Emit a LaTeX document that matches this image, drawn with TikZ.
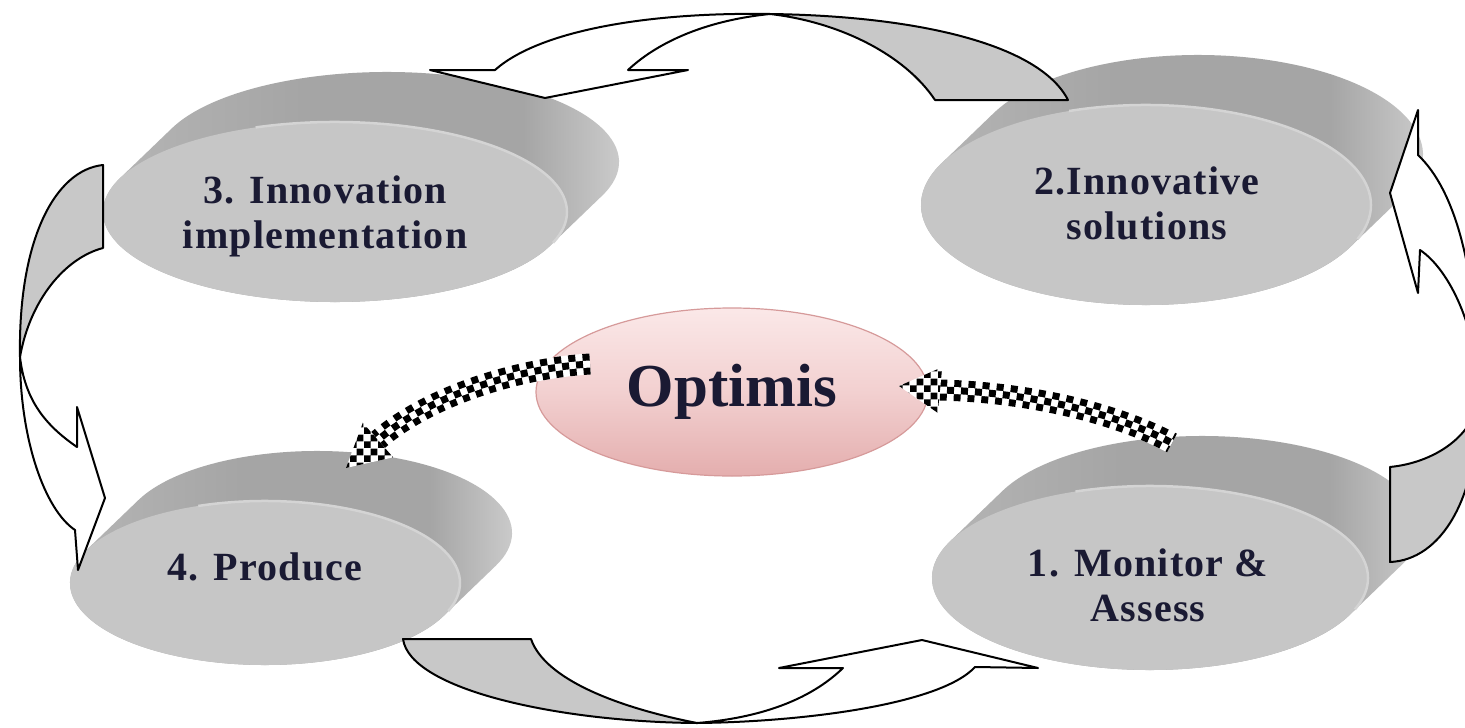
\documentclass[tikz,border=0pt]{standalone}
\usepackage{fontspec}
\setmainfont{Liberation Serif}
\newfontfamily\lblfont[LetterSpace=3]{Liberation Serif}
\usetikzlibrary{shapes.geometric,calc,patterns}
\pgfdeclarepatternformonly{chkseven}{\pgfpointorigin}{\pgfqpoint{14pt}{14pt}}{\pgfqpoint{14pt}{14pt}}{%
 \pgfpathrectangle{\pgfpointorigin}{\pgfqpoint{7pt}{7pt}}%
 \pgfpathrectangle{\pgfqpoint{7pt}{7pt}}{\pgfqpoint{7pt}{7pt}}%
 \pgfusepath{fill}}
\definecolor{sideL}{HTML}{B8B8B8}
\definecolor{sideM}{HTML}{A5A5A5}
\definecolor{sideR}{HTML}{D6D6D6}
\definecolor{face}{HTML}{C6C6C6}
\definecolor{rimc}{HTML}{D4D4D4}
\definecolor{ribgray}{HTML}{C8C8C8}
\definecolor{txt}{HTML}{1A1A33}
\definecolor{pinkT}{HTML}{FBE8E8}
\definecolor{pinkM}{HTML}{F2D0D0}
\definecolor{pinkB}{HTML}{E4AEAE}
\definecolor{pinkD}{HTML}{D69A9A}
\pgfdeclarehorizontalshading{discside}{100bp}{color(0bp)=(sideL); color(25bp)=(sideL); color(45bp)=(sideM); color(64bp)=(sideM); color(75bp)=(sideR); color(100bp)=(sideR)}
\newcommand\mydisc[5]{%
 \shade[shading=discside]
   ($(#1,#2)+(#5:#3 and #4)$) arc[start angle=#5, delta angle=180, x radius=#3, y radius=#4]
   -- ++(52,-50) arc[start angle=#5+180, delta angle=180, x radius=#3, y radius=#4] -- cycle;
 \fill[face] (#1,#2) ellipse[x radius=#3, y radius=#4];
 \draw[rimc, line width=2.5pt] ($(#1,#2)+(250:#3 and #4)$) arc[start angle=250, delta angle=130, x radius=#3, y radius=#4];
}
\newcommand\chkband[1]{%
 \draw[line width=21pt, white] #1;
 \draw[line width=21pt, black, dash pattern=on 7pt off 7pt] #1;
 \draw[line width=7pt, white] #1;
 \draw[line width=7pt, black, dash pattern=on 7pt off 7pt, dash phase=7pt] #1;
}
\begin{document}
\begin{tikzpicture}[x=1pt,y=-1pt,
  lbl/.style={font={\lblfont\bfseries\fontsize{40}{45}\selectfont}, text=txt, align=center, inner sep=0pt},
  ribbon/.style={draw=black, line width=2pt, line join=round},
  optbox/.style={ellipse, draw=pinkD, line width=1.2pt, top color=pinkT, bottom color=pinkB, middle color=pinkM,
     minimum width=392pt, minimum height=168pt, inner sep=0pt, text=txt,
     font={\bfseries\fontsize{61}{61}\selectfont}},
  chkhead/.style={pattern=chkseven, pattern color=black, preaction={fill=white}}]
\useasboundingbox (0,0) rectangle (1465,728);
\fill[white] (0,0) rectangle (1465,728);
\clip (0,0) rectangle (1465,728);

% discs
\mydisc{335}{212}{232}{90}{21.97}
\mydisc{1146}{205}{225}{100}{24.8}
\mydisc{265}{583}{195}{82}{23.6}
\mydisc{1150}{578}{218}{92}{23.7}

\node[lbl] (t3) at (325,216) {3. Innovation\\implementation};
\node[lbl] (t2) at (1147,203) {2.Innovative\\solutions};
\node[lbl] (t4) at (265,567) {4. Produce};
\node[lbl] (t1) at (1148,585) {1. Monitor \&\\Assess};

% top ribbon arrow
\coordinate (TX) at (770,14);
\filldraw[ribbon, fill=ribgray] (TX) .. controls (920,16) and (1040,45) .. (1068,100) -- (935,100) .. controls (905,55) and (840,22) .. (TX) -- cycle;
\filldraw[ribbon, fill=white] (TX) .. controls (650,12) and (540,30) .. (495,70) -- (430,70) -- (545,98) -- (688,70) -- (628,70) .. controls (660,40) and (710,20) .. (TX) -- cycle;

% bottom ribbon arrow
\coordinate (BX) at (697,723);
\filldraw[ribbon, fill=ribgray] (403,639) -- (531,639) .. controls (545,680) and (620,708) .. (BX) .. controls (560,722) and (410,690) .. (403,639) -- cycle;
\filldraw[ribbon, fill=white] (BX) .. controls (800,722) and (940,705) .. (975,667) -- (1038,668) -- (922,640) -- (779,668) -- (843,668) .. controls (810,700) and (760,718) .. (BX) -- cycle;

% left ribbon arrow
\coordinate (LX) at (20,357);
\filldraw[ribbon, fill=ribgray] (103,165) -- (103,248) .. controls (65,258) and (30,300) .. (LX) .. controls (18,240) and (55,170) .. (103,165) -- cycle;
\filldraw[ribbon, fill=white] (LX) .. controls (20,440) and (45,510) .. (75,530) -- (78,570) -- (105,498) -- (77,407) -- (77,447) .. controls (45,425) and (25,400) .. (LX) -- cycle;

% right ribbon arrow
\coordinate (RX) at (1478,395);
\filldraw[ribbon, fill=ribgray] (RX) .. controls (1478,430) and (1440,462) .. (1390,467) -- (1390,562) .. controls (1440,560) and (1480,500) .. (RX) -- cycle;
\filldraw[ribbon, fill=white] (RX) .. controls (1478,270) and (1455,190) .. (1418,155) -- (1418,110) -- (1390,193) -- (1418,293) -- (1420,250) .. controls (1450,270) and (1478,330) .. (RX) -- cycle;

% centre
\node[optbox] (opt) at (732,392) {Optimis};

% checkered arrows
\coordinate (LT) at (590,364);
\coordinate (LB) at (378,440);
\coordinate (LH) at (346,468);
\chkband{(LT) .. controls (520,368) and (430,395) .. (LB)}
\fill[chkhead] (LH) -- ($(LB)!23pt!90:(LH)$) -- ($(LB)!23pt!-90:(LH)$) -- cycle;

\coordinate (RT) at (1172,443);
\coordinate (RB) at (940,390);
\coordinate (RH) at (899,386);
\chkband{(RB) .. controls (1020,392) and (1110,410) .. (RT)}
\fill[chkhead] (RH) -- ($(RB)!23pt!90:(RH)$) -- ($(RB)!23pt!-90:(RH)$) -- cycle;
\end{tikzpicture}
\end{document}
